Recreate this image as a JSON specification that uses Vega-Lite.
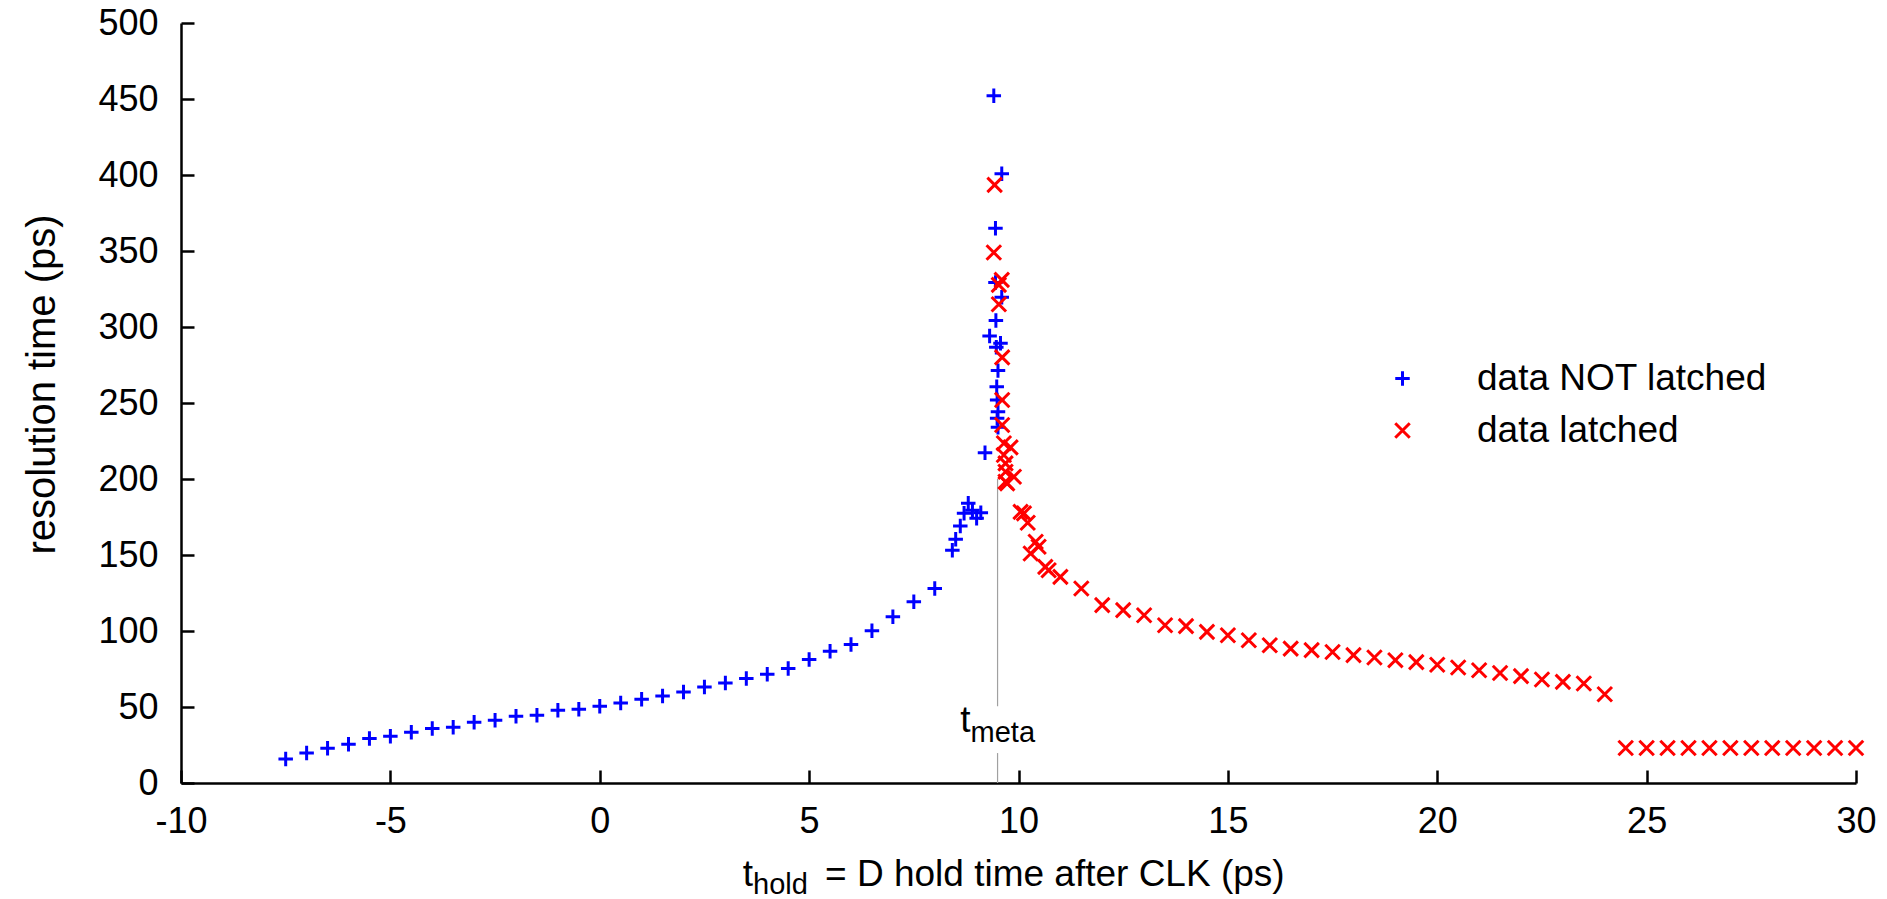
{
  "$schema": "https://vega.github.io/schema/vega-lite/v6.json",
  "autosize": {"type": "none"},
  "width": 1675,
  "height": 760,
  "padding": {"left": 181, "top": 23, "right": 31, "bottom": 116},
  "background": "white",
  "config": {
    "view": {"stroke": null},
    "font": "Liberation Sans",
    "axis": {
      "domainColor": "black", "domainWidth": 2.5,
      "tickColor": "black", "tickWidth": 2.5, "tickSize": -13,
      "labelFontSize": 36, "labelColor": "black", "labelFont": "Liberation Sans",
      "grid": false,
      "titleFontSize": 40, "titleFontWeight": "normal", "titleColor": "black", "titleFont": "Liberation Sans"
    },
    "legend": {
      "orient": "none", "legendX": 1203, "legendY": 337,
      "labelFontSize": 37, "labelFont": "Liberation Sans", "labelColor": "black",
      "labelOffset": 56, "rowPadding": 14, "padding": 0, "labelLimit": 0,
      "symbolStrokeWidth": 3, "symbolSize": 210, "title": null
    }
  },
  "layer": [
    {
      "data": {"values": [
        {"t": 9.5, "r": 0, "r2": 19.7},
        {"t": 9.5, "r": 50.5, "r2": 200}
      ]},
      "mark": {"type": "rule", "color": "#a0a0a0", "strokeWidth": 1.2},
      "encoding": {
        "x": {"field": "t", "type": "quantitative"},
        "y": {"field": "r", "type": "quantitative"},
        "y2": {"field": "r2"}
      }
    },
    {
      "data": {"values": [
        {"t": -7.5, "r": 15.8, "s": "data NOT latched"},
        {"t": -7.0, "r": 19.8, "s": "data NOT latched"},
        {"t": -6.5, "r": 22.8, "s": "data NOT latched"},
        {"t": -6.0, "r": 25.5, "s": "data NOT latched"},
        {"t": -5.5, "r": 29.2, "s": "data NOT latched"},
        {"t": -5.0, "r": 30.7, "s": "data NOT latched"},
        {"t": -4.5, "r": 33.4, "s": "data NOT latched"},
        {"t": -4.0, "r": 35.8, "s": "data NOT latched"},
        {"t": -3.5, "r": 36.7, "s": "data NOT latched"},
        {"t": -3.0, "r": 40.0, "s": "data NOT latched"},
        {"t": -2.5, "r": 41.3, "s": "data NOT latched"},
        {"t": -2.0, "r": 43.9, "s": "data NOT latched"},
        {"t": -1.5, "r": 44.6, "s": "data NOT latched"},
        {"t": -1.0, "r": 47.9, "s": "data NOT latched"},
        {"t": -0.5, "r": 48.5, "s": "data NOT latched"},
        {"t": 0.0, "r": 50.5, "s": "data NOT latched"},
        {"t": 0.5, "r": 52.7, "s": "data NOT latched"},
        {"t": 1.0, "r": 55.1, "s": "data NOT latched"},
        {"t": 1.5, "r": 57.3, "s": "data NOT latched"},
        {"t": 2.0, "r": 59.9, "s": "data NOT latched"},
        {"t": 2.5, "r": 63.2, "s": "data NOT latched"},
        {"t": 3.0, "r": 65.8, "s": "data NOT latched"},
        {"t": 3.5, "r": 68.7, "s": "data NOT latched"},
        {"t": 4.0, "r": 71.6, "s": "data NOT latched"},
        {"t": 4.5, "r": 75.3, "s": "data NOT latched"},
        {"t": 5.0, "r": 81.2, "s": "data NOT latched"},
        {"t": 5.5, "r": 86.7, "s": "data NOT latched"},
        {"t": 6.0, "r": 91.1, "s": "data NOT latched"},
        {"t": 6.5, "r": 100.1, "s": "data NOT latched"},
        {"t": 7.0, "r": 109.3, "s": "data NOT latched"},
        {"t": 7.5, "r": 119.2, "s": "data NOT latched"},
        {"t": 8.0, "r": 128.0, "s": "data NOT latched"},
        {"t": 8.42, "r": 153.2, "s": "data NOT latched"},
        {"t": 8.5, "r": 160.3, "s": "data NOT latched"},
        {"t": 8.61, "r": 169.1, "s": "data NOT latched"},
        {"t": 8.7, "r": 177.4, "s": "data NOT latched"},
        {"t": 8.8, "r": 184.0, "s": "data NOT latched"},
        {"t": 8.9, "r": 179.5, "s": "data NOT latched"},
        {"t": 9.0, "r": 174.1, "s": "data NOT latched"},
        {"t": 9.1, "r": 177.8, "s": "data NOT latched"},
        {"t": 9.2, "r": 217.3, "s": "data NOT latched"},
        {"t": 9.31, "r": 294.1, "s": "data NOT latched"},
        {"t": 9.41, "r": 452.1, "s": "data NOT latched"},
        {"t": 9.45, "r": 365.0, "s": "data NOT latched"},
        {"t": 9.45, "r": 329.2, "s": "data NOT latched"},
        {"t": 9.46, "r": 304.2, "s": "data NOT latched"},
        {"t": 9.47, "r": 286.7, "s": "data NOT latched"},
        {"t": 9.48, "r": 260.7, "s": "data NOT latched"},
        {"t": 9.49, "r": 252.0, "s": "data NOT latched"},
        {"t": 9.49, "r": 239.9, "s": "data NOT latched"},
        {"t": 9.51, "r": 271.3, "s": "data NOT latched"},
        {"t": 9.51, "r": 244.3, "s": "data NOT latched"},
        {"t": 9.51, "r": 234.0, "s": "data NOT latched"},
        {"t": 9.57, "r": 289.3, "s": "data NOT latched"},
        {"t": 9.6, "r": 319.6, "s": "data NOT latched"},
        {"t": 9.6, "r": 400.8, "s": "data NOT latched"},
        {"t": 9.41, "r": 349.0, "s": "data latched"},
        {"t": 9.43, "r": 393.5, "s": "data latched"},
        {"t": 9.53, "r": 327.7, "s": "data latched"},
        {"t": 9.53, "r": 315.0, "s": "data latched"},
        {"t": 9.6, "r": 331.0, "s": "data latched"},
        {"t": 9.61, "r": 280.0, "s": "data latched"},
        {"t": 9.61, "r": 252.0, "s": "data latched"},
        {"t": 9.61, "r": 235.5, "s": "data latched"},
        {"t": 9.65, "r": 223.5, "s": "data latched"},
        {"t": 9.65, "r": 215.8, "s": "data latched"},
        {"t": 9.69, "r": 210.3, "s": "data latched"},
        {"t": 9.69, "r": 204.8, "s": "data latched"},
        {"t": 9.69, "r": 198.2, "s": "data latched"},
        {"t": 9.73, "r": 197.1, "s": "data latched"},
        {"t": 9.81, "r": 220.8, "s": "data latched"},
        {"t": 9.89, "r": 201.5, "s": "data latched"},
        {"t": 10.05, "r": 178.4, "s": "data latched"},
        {"t": 10.13, "r": 177.4, "s": "data latched"},
        {"t": 10.22, "r": 171.2, "s": "data latched"},
        {"t": 10.29, "r": 151.0, "s": "data latched"},
        {"t": 10.41, "r": 158.7, "s": "data latched"},
        {"t": 10.48, "r": 155.4, "s": "data latched"},
        {"t": 10.64, "r": 142.2, "s": "data latched"},
        {"t": 10.72, "r": 140.0, "s": "data latched"},
        {"t": 11.0, "r": 135.6, "s": "data latched"},
        {"t": 11.5, "r": 128.0, "s": "data latched"},
        {"t": 12.0, "r": 117.0, "s": "data latched"},
        {"t": 12.5, "r": 113.7, "s": "data latched"},
        {"t": 13.0, "r": 110.4, "s": "data latched"},
        {"t": 13.5, "r": 103.8, "s": "data latched"},
        {"t": 14.0, "r": 103.2, "s": "data latched"},
        {"t": 14.5, "r": 99.4, "s": "data latched"},
        {"t": 15.0, "r": 97.2, "s": "data latched"},
        {"t": 15.5, "r": 93.9, "s": "data latched"},
        {"t": 16.0, "r": 90.6, "s": "data latched"},
        {"t": 16.5, "r": 88.4, "s": "data latched"},
        {"t": 17.0, "r": 87.4, "s": "data latched"},
        {"t": 17.5, "r": 86.2, "s": "data latched"},
        {"t": 18.0, "r": 84.1, "s": "data latched"},
        {"t": 18.5, "r": 82.6, "s": "data latched"},
        {"t": 19.0, "r": 80.8, "s": "data latched"},
        {"t": 19.5, "r": 79.5, "s": "data latched"},
        {"t": 20.0, "r": 77.8, "s": "data latched"},
        {"t": 20.5, "r": 76.0, "s": "data latched"},
        {"t": 21.0, "r": 74.2, "s": "data latched"},
        {"t": 21.5, "r": 72.4, "s": "data latched"},
        {"t": 22.0, "r": 70.3, "s": "data latched"},
        {"t": 22.5, "r": 68.1, "s": "data latched"},
        {"t": 23.0, "r": 66.5, "s": "data latched"},
        {"t": 23.5, "r": 65.5, "s": "data latched"},
        {"t": 24.0, "r": 58.4, "s": "data latched"},
        {"t": 24.5, "r": 23.0, "s": "data latched"},
        {"t": 25.0, "r": 23.0, "s": "data latched"},
        {"t": 25.5, "r": 23.0, "s": "data latched"},
        {"t": 26.0, "r": 23.0, "s": "data latched"},
        {"t": 26.5, "r": 23.0, "s": "data latched"},
        {"t": 27.0, "r": 23.0, "s": "data latched"},
        {"t": 27.5, "r": 23.0, "s": "data latched"},
        {"t": 28.0, "r": 23.0, "s": "data latched"},
        {"t": 28.5, "r": 23.0, "s": "data latched"},
        {"t": 29.0, "r": 23.0, "s": "data latched"},
        {"t": 29.5, "r": 23.0, "s": "data latched"},
        {"t": 30.0, "r": 23.0, "s": "data latched"}
      ]},
      "mark": {"type": "point", "filled": false, "strokeWidth": 3, "size": 210, "opacity": 1},
      "encoding": {
        "x": {
          "field": "t", "type": "quantitative",
          "scale": {"domain": [-10, 30], "nice": false, "zero": false},
          "axis": {"values": [-10, -5, 0, 5, 10, 15, 20, 25, 30], "title": null, "labelPadding": 34, "labelFlush": false, "labelExpr": "'' + datum.value"}
        },
        "y": {
          "field": "r", "type": "quantitative",
          "scale": {"domain": [0, 500], "nice": false},
          "axis": {"values": [0, 50, 100, 150, 200, 250, 300, 350, 400, 450, 500], "title": "resolution time (ps)", "labelPadding": 36, "titleX": -139, "titleY": 361, "titleAlign": "center", "titleBaseline": "middle", "titleAngle": 270}
        },
        "color": {
          "field": "s", "type": "nominal",
          "scale": {"domain": ["data NOT latched", "data latched"], "range": ["#0000ff", "#ff0000"]}
        },
        "shape": {
          "field": "s", "type": "nominal",
          "scale": {"domain": ["data NOT latched", "data latched"], "range": ["M-1,0H1M0,-1V1", "M-1,-1L1,1M-1,1L1,-1"]}
        }
      }
    },
    {
      "data": {"values": [{"t": 9.5, "r": 33.6, "label": "t"}]},
      "mark": {"type": "text", "fontSize": 37, "align": "right", "baseline": "alphabetic", "dx": -27, "color": "black", "font": "Liberation Sans"},
      "encoding": {
        "x": {"field": "t", "type": "quantitative"},
        "y": {"field": "r", "type": "quantitative"},
        "text": {"field": "label"}
      }
    },
    {
      "data": {"values": [{"t": 9.5, "r": 33.6, "label": "meta"}]},
      "mark": {"type": "text", "fontSize": 29, "align": "left", "baseline": "alphabetic", "dx": -27, "dy": 10, "color": "black", "font": "Liberation Sans"},
      "encoding": {
        "x": {"field": "t", "type": "quantitative"},
        "y": {"field": "r", "type": "quantitative"},
        "text": {"field": "label"}
      }
    },
    {
      "data": {"values": [{"t": 3.66, "r": -68.0, "label": "t"}]},
      "mark": {"type": "text", "fontSize": 37, "align": "right", "baseline": "alphabetic", "color": "black", "font": "Liberation Sans"},
      "encoding": {
        "x": {"field": "t", "type": "quantitative"},
        "y": {"field": "r", "type": "quantitative"},
        "text": {"field": "label"}
      }
    },
    {
      "data": {"values": [{"t": 3.66, "r": -68.0, "label": "hold"}]},
      "mark": {"type": "text", "fontSize": 29, "align": "left", "baseline": "alphabetic", "dy": 8, "color": "black", "font": "Liberation Sans"},
      "encoding": {
        "x": {"field": "t", "type": "quantitative"},
        "y": {"field": "r", "type": "quantitative"},
        "text": {"field": "label"}
      }
    },
    {
      "data": {"values": [{"t": 5.38, "r": -68.0, "label": "= D hold time after CLK (ps)"}]},
      "mark": {"type": "text", "fontSize": 37, "align": "left", "baseline": "alphabetic", "color": "black", "font": "Liberation Sans"},
      "encoding": {
        "x": {"field": "t", "type": "quantitative"},
        "y": {"field": "r", "type": "quantitative"},
        "text": {"field": "label"}
      }
    }
  ]
}
